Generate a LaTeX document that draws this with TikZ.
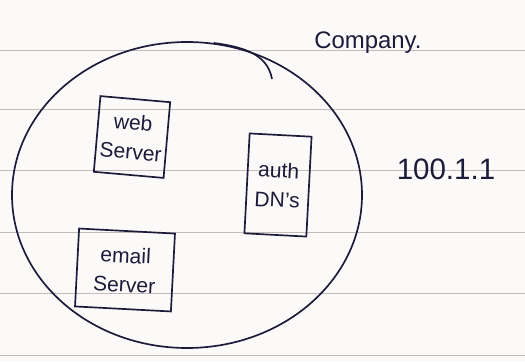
\documentclass[tikz,border=0pt]{standalone}
\usepackage{fontspec}
\setmainfont{Liberation Sans}
\usetikzlibrary{shapes.geometric, positioning}
\definecolor{ink}{RGB}{28, 28, 58}
\definecolor{ruling}{RGB}{196, 186, 185}
\definecolor{paper}{RGB}{252, 250, 249}

\begin{document}
\begin{tikzpicture}[
  server/.style={draw=ink, line width=1.2pt, align=center, text=ink, inner sep=2pt, font=\fontsize{15}{21}\selectfont},
  hand/.style={text=ink, font=\fontsize{#1}{#1}\selectfont},
  rule/.style={draw=ruling, line width=0.7pt}
]
  \fill[paper] (0,0) rectangle (13.125,9.025);
  \useasboundingbox (0,0) rectangle (13.125,9.025);

  % ruled paper
  \foreach \y in {7.775, 6.3, 4.775, 3.225, 1.7, 0.15}
    \draw[rule] (0,\y) -- (13.125,\y);

  \node[draw=ink, line width=1.2pt, ellipse, minimum width=8.75cm, minimum height=7.65cm, inner sep=0pt] (net) at (4.675, 4.15) {};
  \coordinate (tail) at (6.8, 7.05);
  \draw[ink, line width=1.2pt] (net.80) to[out=-8, in=100] (tail);

  \node[server, minimum width=1.75cm, minimum height=1.9cm, rotate=-5] (web) at (3.3, 5.6) {web\\Server};
  \node[server, minimum width=1.55cm, minimum height=2.5cm, rotate=-3] (auth) at (6.95, 4.4) {auth\\DN's};
  \node[server, minimum width=2.4cm, minimum height=1.95cm, rotate=-3] (email) at (3.125, 2.275) {email\\Server};

  \node[hand=17] (company) at (9.2, 7.95) {Company.};
  \node[hand=21] (ip) at (11.15, 4.8) {100.1.1};
\end{tikzpicture}
\end{document}
